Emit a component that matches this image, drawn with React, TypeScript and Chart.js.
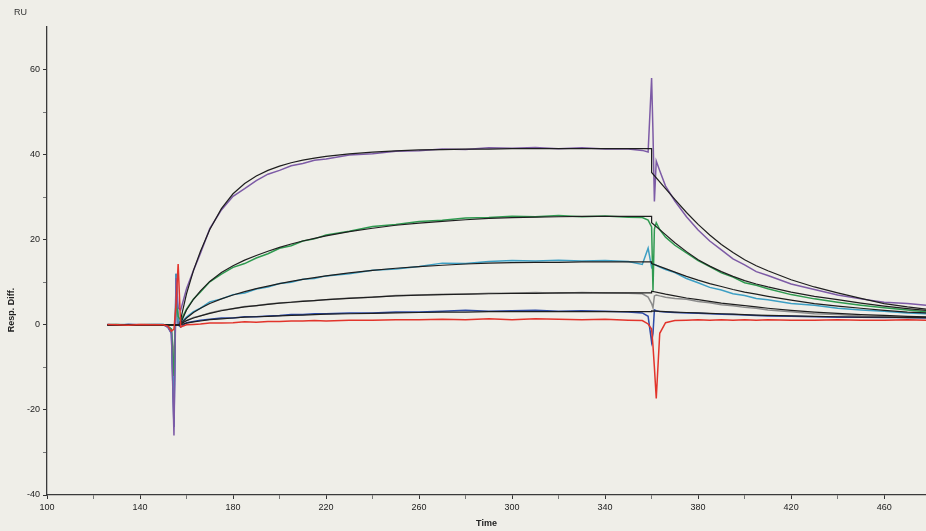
import React, { useEffect, useRef } from 'react';
import { Chart, registerables } from 'chart.js';
Chart.register(...registerables);

// Shared sampling times (s) for the measured sensorgrams
const timeS = [
  126, 130, 135, 140, 145, 150, 152, 153.5, 154.6, 155.5, 156.4, 157.5,
  160, 163, 166, 170, 175, 180, 185, 190, 195, 200, 205, 210, 215, 220,
  230, 240, 250, 260, 270, 280, 290, 300, 310, 320, 330, 340, 350, 356, 358.5,
  360, 360.6, 361.2, 362, 363.5,
  366, 370, 375, 380, 385, 390, 395, 400, 405, 410, 420, 430, 440, 450, 460, 470, 478,
];

const respPurple = [
  0.1, -0.1, 0.1, 0.0, 0.1, 0.0, -0.5, -2.0, -26.0, 11.0, 4.0, 3.5,
  8.5, 12.8, 16.8, 22.6, 27.0, 30.2, 32.0, 33.9, 35.4, 36.3, 37.4, 37.9, 38.7, 39.0,
  39.9, 40.2, 40.8, 40.9, 41.3, 41.2, 41.6, 41.5, 41.7, 41.4, 41.6, 41.3, 41.3, 41.0, 40.6,
  58.0, 45.0, 29.0, 38.5, 36.2,
  32.6, 29.1, 25.4, 22.3, 19.7, 17.6, 15.5, 14.1, 12.5, 11.6, 9.6, 8.3, 7.0, 6.1, 5.3, 5.0, 4.6,
];
const respGreen = [
  0.0, 0.1, -0.1, 0.0, 0.1, 0.0, -0.3, -1.0, -12.0, 6.0, 2.0, 1.0,
  3.7, 6.1, 7.7, 10.1, 11.9, 13.5, 14.4, 15.7, 16.7, 18.0, 18.6, 19.7, 20.2, 21.1,
  22.0, 23.1, 23.6, 24.3, 24.6, 25.1, 25.2, 25.5, 25.4, 25.7, 25.4, 25.6, 25.3, 25.2, 24.6,
  23.0, 8.0, 22.5, 24.0, 22.4,
  20.6, 18.7, 16.9, 15.1, 13.7, 12.2, 11.2, 9.9, 9.3, 8.5, 7.1, 6.1, 5.3, 4.6, 4.0, 3.5, 3.1,
];
const respCyan = [
  0.1, 0.0, 0.1, -0.1, 0.0, 0.1, -0.5, -1.5, -20.0, 12.0, 1.0, 0.5,
  1.8, 3.1, 3.9, 5.4, 6.1, 7.1, 7.5, 8.4, 8.9, 9.7, 10.0, 10.7, 10.9, 11.5,
  12.0, 12.8, 13.1, 13.7, 14.5, 14.4, 14.9, 15.1, 15.0, 15.2, 15.0, 15.1, 14.9, 14.2, 18.0,
  13.5, 14.0, 14.2, 14.0, 13.6,
  13.0, 12.3, 10.9, 9.9, 8.8, 8.2, 7.3, 6.9, 6.2, 5.9, 5.0, 4.6, 3.9, 3.5, 3.2, 2.8, 2.6,
];
const respGrey = [
  0.0, 0.1, 0.0, 0.1, 0.0, 0.0, -0.4, -1.0, -8.0, 5.0, 1.0, 0.3,
  1.0, 1.7, 2.1, 2.8, 3.4, 3.8, 4.3, 4.5, 4.9, 5.1, 5.3, 5.6, 5.7, 5.9,
  6.3, 6.5, 6.9, 7.0, 7.2, 7.2, 7.4, 7.4, 7.6, 7.4, 7.6, 7.5, 7.4, 7.3, 6.5,
  5.0, 4.0, 6.8, 7.0, 6.8,
  6.5, 6.2, 6.0, 5.5, 5.2, 4.7, 4.5, 4.1, 3.9, 3.5, 3.1, 2.6, 2.4, 2.1, 2.0, 1.8, 1.8,
];
const respBlue = [
  0.0, -0.1, 0.1, 0.0, 0.0, 0.1, -0.6, -2.0, -24.0, 12.0, 0.0, -0.5,
  0.5, 0.8, 1.1, 1.3, 1.6, 1.6, 1.9, 1.9, 2.1, 2.2, 2.4, 2.4, 2.6, 2.6,
  2.8, 2.8, 3.0, 3.0, 3.2, 3.4, 3.2, 3.3, 3.4, 3.2, 3.3, 3.2, 3.0, 2.8, 2.0,
  -4.0, -2.0, 3.5, 3.3, 3.1,
  3.0, 2.9, 2.8, 2.7, 2.6, 2.5, 2.4, 2.3, 2.2, 2.1, 2.0, 1.9, 1.8, 1.8, 1.7, 1.7, 1.6,
];
const respRed = [
  0.1, 0.0, -0.1, 0.1, 0.0, 0.0, -0.3, -1.5, -1.0, 5.0, 14.3, -0.5,
  0.0, 0.1, 0.2, 0.4, 0.4, 0.5, 0.7, 0.6, 0.8, 0.8, 0.9, 0.9, 1.0, 0.9,
  1.1, 1.1, 1.2, 1.2, 1.3, 1.2, 1.4, 1.2, 1.4, 1.3, 1.2, 1.3, 1.1, 1.0, 0.2,
  -1.0, -5.0, -10.0, -17.3, -2.0,
  0.5, 1.0, 1.1, 1.2, 1.1, 1.2, 1.1, 1.2, 1.1, 1.2, 1.1, 1.1, 1.2, 1.1, 1.1, 1.2, 1.1,
];

// Times for the fitted (black) curves
const timeFit = [
  126, 157, 158, 160, 163, 166, 170, 175, 180, 185, 190, 195, 200, 205, 210, 215, 220,
  230, 240, 250, 260, 270, 280, 290, 300, 310, 320, 330, 340, 350, 360,
  360.01, 366, 370, 375, 380, 385, 390, 395, 400, 405, 410, 420, 430, 440, 450, 460, 470, 478,
];
const fitPurple = [
  0, 0, 2.5, 7.3, 12.8, 17.3, 22.4, 27.3, 30.8, 33.2, 35.0, 36.3, 37.3, 38.1, 38.7, 39.2, 39.6,
  40.2, 40.6, 40.9, 41.1, 41.2, 41.3, 41.3, 41.4, 41.4, 41.4, 41.4, 41.4, 41.4, 41.4,
  35.8, 32.0, 29.5, 26.4, 23.6, 21.1, 18.9, 17.0, 15.3, 13.9, 12.7, 10.6, 8.9, 7.5, 6.2, 5.0, 4.2, 3.7,
];
const fitGreen = [
  0, 0, 1.0, 3.5, 6.0, 8.0, 10.2, 12.3, 13.9, 15.2, 16.3, 17.3, 18.2, 19.0, 19.7, 20.3, 20.9,
  21.9, 22.7, 23.4, 23.9, 24.3, 24.7, 25.0, 25.2, 25.3, 25.4, 25.5, 25.5, 25.5, 25.5,
  24.0, 21.2, 19.3, 17.2, 15.3, 13.8, 12.5, 11.4, 10.4, 9.6, 8.9, 7.7, 6.7, 5.9, 5.1, 4.4, 3.8, 3.4,
];
const fitCyan = [
  0, 0, 0.5, 1.6, 2.9, 3.9, 5.0, 6.1, 7.0, 7.8, 8.5, 9.1, 9.7, 10.2, 10.7, 11.1, 11.5,
  12.2, 12.8, 13.3, 13.7, 14.0, 14.3, 14.5, 14.6, 14.7, 14.7, 14.8, 14.8, 14.8, 14.8,
  14.4, 13.2, 12.4, 11.4, 10.5, 9.7, 9.0, 8.3, 7.7, 7.2, 6.7, 5.8, 5.0, 4.4, 3.9, 3.4, 3.0, 2.8,
];
const fitGrey = [
  0, 0, 0.3, 1.0, 1.6, 2.1, 2.7, 3.3, 3.8, 4.2, 4.5, 4.8, 5.1, 5.3, 5.5, 5.7, 5.9,
  6.2, 6.5, 6.8, 7.0, 7.1, 7.2, 7.3, 7.4, 7.4, 7.5, 7.5, 7.5, 7.5, 7.5,
  7.9, 7.2, 6.8, 6.3, 5.9, 5.5, 5.1, 4.8, 4.5, 4.2, 3.9, 3.4, 3.0, 2.7, 2.4, 2.2, 2.0, 1.9,
];
const fitBlue = [
  0, 0, 0.1, 0.4, 0.7, 0.9, 1.2, 1.4, 1.6, 1.8, 1.9, 2.0, 2.1, 2.2, 2.3, 2.4, 2.5,
  2.6, 2.7, 2.8, 2.9, 3.0, 3.0, 3.1, 3.1, 3.1, 3.1, 3.1, 3.1, 3.1, 3.1,
  3.3, 3.1, 3.0, 2.9, 2.8, 2.7, 2.6, 2.5, 2.4, 2.3, 2.2, 2.1, 2.0, 1.9, 1.8, 1.8, 1.7, 1.7,
];

const FONT = '"Liberation Sans", Arial, sans-serif';

export default function App() {
  const ref = useRef<HTMLCanvasElement>(null);
  useEffect(() => {
    const canvas = ref.current;
    if (!canvas) return;
    const mk = (xs: number[], ys: number[]) => xs.map((x, i) => ({ x, y: ys[i] }));
    const line = (label: string, xs: number[], ys: number[], color: string, w: number) => ({
      label,
      data: mk(xs, ys),
      borderColor: color,
      backgroundColor: color,
      borderWidth: w,
      pointRadius: 0,
      tension: 0,
      fill: false,
    });
    const fitColor = '#1e1e1e';
    const labelPlugin = {
      id: 'axisLabels',
      afterDraw(chart: any) {
        const c = chart.ctx;
        c.save();
        c.font = '9px ' + FONT;
        c.fillStyle = '#333';
        c.textBaseline = 'alphabetic';
        c.fillText('RU', 14, 15);
        c.translate(12, 310);
        c.rotate(-Math.PI / 2);
        c.font = 'bold 9px ' + FONT;
        c.fillStyle = '#222';
        c.textAlign = 'center';
        c.textBaseline = 'middle';
        c.fillText('Resp. Diff.', 0, 0);
        c.restore();
      },
    };
    const chart = new Chart(canvas, {
      type: 'line',
      data: {
        datasets: [
          line('Red', timeS, respRed, '#e2342b', 1.5),
          line('Fit blue', timeFit, fitBlue, fitColor, 1.2),
          line('Fit grey', timeFit, fitGrey, fitColor, 1.2),
          line('Fit cyan', timeFit, fitCyan, fitColor, 1.2),
          line('Fit green', timeFit, fitGreen, fitColor, 1.2),
          line('Fit purple', timeFit, fitPurple, fitColor, 1.2),
          line('Purple', timeS, respPurple, '#7d5ba6', 1.5),
          line('Green', timeS, respGreen, '#2f9a50', 1.5),
          line('Cyan', timeS, respCyan, '#3d9fc4', 1.5),
          line('Grey', timeS, respGrey, '#8c8c8c', 1.5),
          line('Blue', timeS, respBlue, '#2c4aa8', 1.5),
        ] as any,
      },
      options: {
        animation: false,
        responsive: false,
        maintainAspectRatio: false,
        parsing: false as any,
        layout: { padding: { top: 27, right: 0, left: 0, bottom: 0 } },
        plugins: {
          legend: { display: false },
          tooltip: { enabled: false },
          title: { display: false },
        },
        scales: {
          x: {
            type: 'linear',
            min: 100,
            max: 478,
            afterFit: (s: any) => { s.height = 36; },
            afterBuildTicks: (s: any) => { s.ticks = s.ticks.filter((t: any) => t.value % 20 === 0); },
            ticks: {
              stepSize: 20,
              autoSkip: false,
              maxRotation: 0,
              padding: 3,
              color: '#222',
              font: { family: FONT, size: 9 },
              callback: (v: any) => ((v - 100) % 40 === 0 ? String(v) : ''),
            },
            grid: {
              drawOnChartArea: false,
              drawTicks: true,
              tickLength: 4,
              tickColor: (ctx: any) => (ctx.tick && (ctx.tick.value - 100) % 40 === 0 ? '#333' : '#777'),
            },
            border: { display: true, color: '#3a3a3a', width: 1.3 },
            title: {
              display: true,
              text: 'Time',
              color: '#222',
              font: { family: FONT, size: 9, weight: 'bold' },
              padding: { top: 0, bottom: 2 },
            },
          },
          y: {
            type: 'linear',
            min: -40,
            max: 70,
            afterFit: (s: any) => { s.width = 47; },
            afterBuildTicks: (s: any) => { s.ticks = s.ticks.filter((t: any) => t.value % 10 === 0 && t.value <= 60); },
            ticks: {
              stepSize: 10,
              autoSkip: false,
              padding: 3,
              color: '#222',
              font: { family: FONT, size: 9 },
              callback: (v: any) => (v % 20 === 0 ? String(v) : ''),
            },
            grid: {
              drawOnChartArea: false,
              drawTicks: true,
              tickLength: 4,
              tickColor: (ctx: any) => (ctx.tick && ctx.tick.value % 20 === 0 ? '#333' : '#777'),
            },
            border: { display: true, color: '#3a3a3a', width: 1.3 },
          },
        },
      } as any,
      plugins: [labelPlugin],
    });
    return () => chart.destroy();
  }, []);
  return (
    <div style={{ position: 'fixed', left: 0, top: 0, width: 926, height: 531, background: '#efeee8' }}>
      <canvas ref={ref} width={926} height={531} style={{ display: 'block' }} />
    </div>
  );
}
